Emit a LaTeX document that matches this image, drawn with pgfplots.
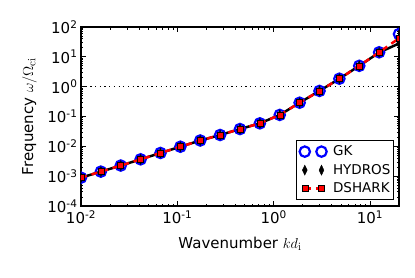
\documentclass[border=0pt]{standalone}
\usepackage[no-math]{fontspec}
\setmainfont{DejaVu Sans}
\usepackage{pgfplots}
\pgfplotsset{compat=1.18}
\pgfplotsset{twomarks/.style={legend image code/.code={\path (-6pt,0pt) (25pt,0pt); \draw[##1] plot coordinates {(0pt,0pt) (16.7pt,0pt)};}}}

\pgfplotstableread{
k          gk       hyd      dsh
0.01       8.9e-4   8.9e-4   8.9e-4
0.016081   1.42e-3  1.42e-3  1.42e-3
0.025860   2.27e-3  2.27e-3  2.27e-3
0.041586   3.67e-3  3.67e-3  3.67e-3
0.066874   6.0e-3   6.0e-3   6.0e-3
0.107539   9.7e-3   9.7e-3   9.7e-3
0.172932   0.0157   0.0157   0.0157
0.278091   0.024    0.024    0.024
0.447214   0.038    0.038    0.038
0.719148   0.059    0.059    0.059
1.15646    0.113    0.113    0.113
1.85969    0.29     0.29     0.29
2.99054    0.72     0.72     0.72
4.80906    1.85     1.85     1.85
7.73340    5.0      5.0      5.0
12.4360    14.2     14.0     14.2
20         58       28       42
}\datatable

\begin{document}
\begin{tikzpicture}
\useasboundingbox (-81pt,-71pt) rectangle (334pt,206pt);
\begin{axis}[
  at={(0,0)}, anchor=south west,
  width=318pt, height=179pt, scale only axis,
  xmode=log, ymode=log,
  xmin=0.01, xmax=20, ymin=1e-4, ymax=1e2,
  xtick={0.01,0.1,1,10},
  xticklabels={10\textsuperscript{-2},10\textsuperscript{-1},10\textsuperscript{0},10\textsuperscript{1}},
  ytick={1e-4,1e-3,1e-2,1e-1,1,10,100},
  yticklabels={10\textsuperscript{-4},10\textsuperscript{-3},10\textsuperscript{-2},10\textsuperscript{-1},10\textsuperscript{0},10\textsuperscript{1},10\textsuperscript{2}},
  tick label style={font=\fontsize{15}{18}\selectfont},
  xticklabel style={yshift=-1pt},
  label style={font=\fontsize{15}{18}\selectfont},
  xlabel={Wavenumber $kd_{\mathrm{i}}$},
  ylabel={Frequency $\omega/\Omega_{\mathrm{ci}}$},
  xlabel style={at={(axis description cs:0.5,-0.2346)}, anchor=base},
  ylabel style={at={(axis description cs:-0.162,0.5)}, anchor=center},
  tick align=inside, xtick pos=both, ytick pos=both,
  major tick length=5pt, minor tick length=2.5pt,
  every tick/.style={black, line width=0.8pt},
  axis line style={line width=1.1pt},
  clip marker paths=true,
  legend style={at={(rel axis cs:0.984,0.034)}, anchor=south east,
    font=\fontsize{13.5}{16}\selectfont, draw=black, line width=1pt,
    inner xsep=1pt, inner ysep=3pt, row sep=3pt},
  legend cell align=left,
]
\addplot[black, dotted, line width=1.1pt, dash pattern=on 1.2pt off 3.5pt, forget plot] coordinates {(0.01,1) (20,1)};
\addplot[black, line width=2.5pt, forget plot] table[x=k, y=hyd] {\datatable};
\addplot[only marks, mark=o, mark options={draw=blue, line width=2.2pt}, mark size=5.2pt, twomarks]
  table[x=k, y=gk] {\datatable};
\addlegendentry{GK}
\addplot[only marks, mark=diamond*, mark size=5pt, mark options={fill=black, draw=black, xscale=0.65, line width=0.4pt}, twomarks]
  table[x=k, y=hyd] {\datatable};
\addlegendentry{HYDROS}
\addplot[red, line width=2.5pt, dash pattern=on 6pt off 5pt, mark=square*, mark size=3pt,
  mark options={solid, fill=red, draw=black, line width=0.5pt}, twomarks]
  table[x=k, y=dsh] {\datatable};
\addlegendentry{DSHARK}
\end{axis}
\end{tikzpicture}
\end{document}
